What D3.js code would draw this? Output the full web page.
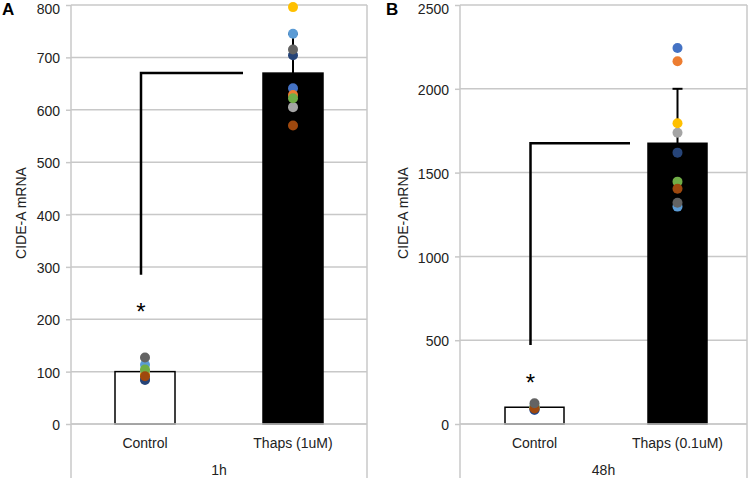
<!DOCTYPE html>
<html><head><meta charset="utf-8">
<script src="https://cdn.jsdelivr.net/npm/d3@7"></script>
<style>body{margin:0;background:#fff}svg{display:block;font-family:"Liberation Sans",Arial,sans-serif}</style>
</head><body>
<svg id="c" width="752" height="480"></svg>
<script>
// ---- data ----
const categoriesA = ["Control", "Thaps (1uM)"];
const categoriesB = ["Control", "Thaps (0.1uM)"];
const groupLabelA = "1h";
const groupLabelB = "48h";
const yTitle = "CIDE-A mRNA";
const meansA = [100, 670];
const meansB = [100, 1675];
const errUpperA = [100, 745];
const errUpperB = [100, 2000];
const seriesColors = ["#4472C4", "#ED7D31", "#A5A5A5", "#FFC000", "#5B9BD5", "#70AD47", "#264478", "#9E480E", "#636363"];
const pointsAControl = [86, 96, 100, 93, 113, 104, 84, 91, 127];
const pointsAThaps = [641, 628, 605, 796, 745, 622, 704, 570, 715];
const pointsBControl = [84, 95, 100, 98, 105, 102, 86, 92, 124];
const pointsBThaps = [2243, 2164, 1738, 1794, 1297, 1446, 1619, 1404, 1320];
const ticksA = [0, 100, 200, 300, 400, 500, 600, 700, 800];
const ticksB = [0, 500, 1000, 1500, 2000, 2500];
const sigA = { low: 285, high: 670, star: 225 };
const sigB = { low: 471, high: 1675, star: 280 };

const svg = d3.select("#c");
const GRID = "#c8c8c8";

function panel(cfg) {
  const g = svg.append("g");
  const top = cfg.ticks[cfg.ticks.length - 1];
  const y = d3.scaleLinear().domain([0, top]).range([424, 5]);
  const x = d3.scaleBand().domain(cfg.categories).range(cfg.bandRange);
  const bw = cfg.barWidth;
  const cx = c => x(c) + x.bandwidth() / 2;

  // gridlines
  g.selectAll("line.grid").data(cfg.ticks).join("line")
    .attr("x1", cfg.left).attr("x2", cfg.right)
    .attr("y1", d => y(d)).attr("y2", d => y(d))
    .attr("stroke", GRID).attr("stroke-width", 1.5);
  // left axis & right border
  [cfg.left, cfg.right].forEach(xx => g.append("line")
    .attr("x1", xx).attr("x2", xx).attr("y1", y(top)).attr("y2", 478)
    .attr("stroke", GRID).attr("stroke-width", 1.5));

  // y axis ticks via d3 axis
  const ax = g.append("g").attr("transform", `translate(${cfg.left},0)`)
    .call(d3.axisLeft(y).tickValues(cfg.ticks).tickSize(5).tickPadding(cfg.tickPad).tickFormat(d3.format("d")));
  ax.select(".domain").remove();
  ax.selectAll(".tick line").attr("stroke", GRID).attr("stroke-width", 1.5);
  ax.selectAll(".tick text").attr("fill", "#222").attr("dy", d => d === top ? "0.58em" : "0.4em")
    .style("font-size", "14px")
    .style("font-family", '"Liberation Sans",Arial,sans-serif');

  // y title
  g.append("text").attr("transform", `translate(${cfg.titleX},213) rotate(-90)`)
    .attr("text-anchor", "middle").attr("font-size", 14).attr("fill", "#222").text(yTitle);

  // bars
  g.selectAll("rect.bar").data(cfg.categories).join("rect")
    .attr("x", c => cx(c) - bw / 2).attr("width", bw)
    .attr("y", (c, i) => y(cfg.means[i])).attr("height", (c, i) => y(0) - y(cfg.means[i]))
    .attr("fill", (c, i) => i === 0 ? "#fff" : "#000")
    .attr("stroke", "#000").attr("stroke-width", 1.5);

  // error bars
  cfg.categories.forEach((c, i) => {
    if (cfg.errUpper[i] <= cfg.means[i]) return;
    g.append("line").attr("x1", cx(c)).attr("x2", cx(c))
      .attr("y1", y(cfg.means[i])).attr("y2", y(cfg.errUpper[i])).attr("stroke", "#000").attr("stroke-width", 2);
    g.append("line").attr("x1", cx(c) - 5).attr("x2", cx(c) + 5)
      .attr("y1", y(cfg.errUpper[i])).attr("y2", y(cfg.errUpper[i])).attr("stroke", "#000").attr("stroke-width", 2);
  });

  // points
  cfg.points.forEach((vals, i) => {
    const c = cfg.categories[i];
    g.selectAll(null).data(vals).join("circle")
      .attr("cx", cx(c)).attr("cy", d => y(d)).attr("r", 5)
      .attr("fill", (d, k) => seriesColors[k]);
  });

  // x axis line
  g.append("line").attr("x1", cfg.left).attr("x2", cfg.right).attr("y1", y(0)).attr("y2", y(0))
    .attr("stroke", GRID).attr("stroke-width", 1.5);

  // category labels
  g.selectAll("text.cat").data(cfg.categories).join("text")
    .attr("x", c => cx(c)).attr("y", 448).attr("text-anchor", "middle")
    .attr("font-size", 14).attr("fill", "#222").text(c => c);
  g.append("text").attr("x", (cfg.left + cfg.right) / 2).attr("y", 475).attr("text-anchor", "middle")
    .attr("font-size", 14).attr("fill", "#222").text(cfg.group);

  // significance bracket
  const bx = cx(cfg.categories[0]) - 4;
  const ex = x(cfg.categories[1]) + 24;
  g.append("path")
    .attr("d", `M${bx},${y(cfg.sig.low)}V${y(cfg.sig.high)}H${ex}`)
    .attr("fill", "none").attr("stroke", "#000").attr("stroke-width", 2.5);
  g.append("text").attr("x", bx).attr("y", y(cfg.sig.star) + 14).attr("text-anchor", "middle")
    .attr("font-size", 24).attr("fill", "#000").text("*");

  // panel letter
  g.append("text").attr("x", cfg.letterX).attr("y", 15).attr("font-size", 17).attr("font-weight", "bold")
    .attr("fill", "#000").text(cfg.letter);
}

panel({
  categories: categoriesA, means: meansA, errUpper: errUpperA,
  points: [pointsAControl, pointsAThaps], ticks: ticksA, sig: sigA, group: groupLabelA,
  left: 71, right: 367, bandRange: [71, 367], barWidth: 60, tickPad: 6, titleX: 26, letter: "A", letterX: 2
});
panel({
  categories: categoriesB, means: meansB, errUpper: errUpperB,
  points: [pointsBControl, pointsBThaps], ticks: ticksB, sig: sigB, group: groupLabelB,
  left: 460, right: 747, bandRange: [463, 749], barWidth: 59, tickPad: 6, titleX: 408, letter: "B", letterX: 386
});
</script>
</body></html>
